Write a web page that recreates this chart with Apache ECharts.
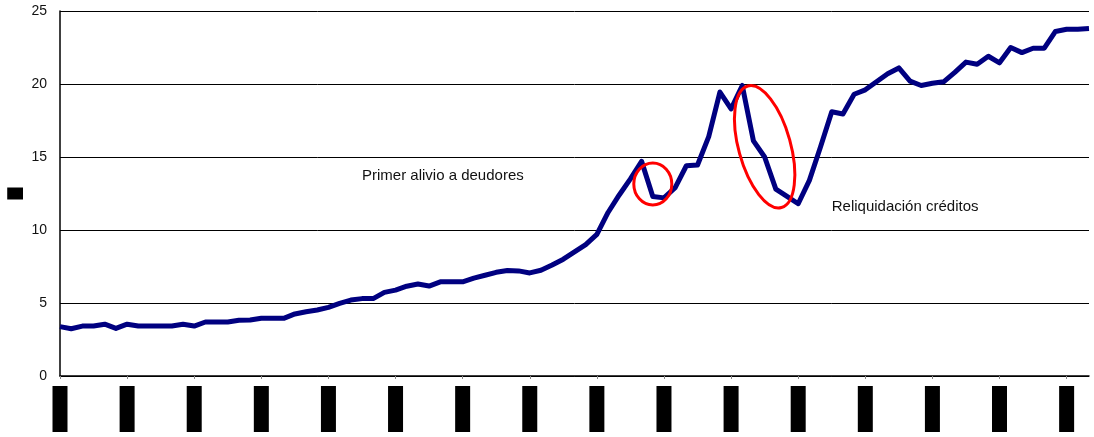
<!DOCTYPE html>
<html>
<head>
<meta charset="utf-8">
<script src="https://cdn.jsdelivr.net/npm/echarts@6/dist/echarts.min.js"></script>
<style>
html,body{margin:0;padding:0;background:#fff;}
#c{width:1094px;height:437px;}
</style>
</head>
<body>
<div id="c"></div>
<script>
// Monthly categories (labels shown every 6 months)
const categories = [
 'Jul-94','Ago-94','Sep-94','Oct-94','Nov-94','Dic-94',
 'Ene-95','Feb-95','Mar-95','Abr-95','May-95','Jun-95','Jul-95','Ago-95','Sep-95','Oct-95','Nov-95','Dic-95',
 'Ene-96','Feb-96','Mar-96','Abr-96','May-96','Jun-96','Jul-96','Ago-96','Sep-96','Oct-96','Nov-96','Dic-96',
 'Ene-97','Feb-97','Mar-97','Abr-97','May-97','Jun-97','Jul-97','Ago-97','Sep-97','Oct-97','Nov-97','Dic-97',
 'Ene-98','Feb-98','Mar-98','Abr-98','May-98','Jun-98','Jul-98','Ago-98','Sep-98','Oct-98','Nov-98','Dic-98',
 'Ene-99','Feb-99','Mar-99','Abr-99','May-99','Jun-99','Jul-99','Ago-99','Sep-99','Oct-99','Nov-99','Dic-99',
 'Ene-00','Feb-00','Mar-00','Abr-00','May-00','Jun-00','Jul-00','Ago-00','Sep-00','Oct-00','Nov-00','Dic-00',
 'Ene-01','Feb-01','Mar-01','Abr-01','May-01','Jun-01','Jul-01','Ago-01','Sep-01','Oct-01','Nov-01','Dic-01',
 'Ene-02','Feb-02','Mar-02'
];
const values = [
 3.38,3.24,3.42,3.42,3.55,3.26,3.55,3.42,3.42,3.42,
 3.42,3.55,3.42,3.70,3.70,3.70,3.82,3.83,3.95,3.95,
 3.95,4.25,4.40,4.52,4.70,4.98,5.20,5.30,5.30,5.73,
 5.88,6.15,6.30,6.16,6.45,6.45,6.45,6.70,6.90,7.10,
 7.22,7.20,7.06,7.24,7.60,8.00,8.50,9.00,9.70,11.20,
 12.40,13.50,14.70,12.30,12.20,12.90,14.40,14.45,16.40,19.45,
 18.30,19.90,16.10,15.00,12.80,12.30,11.80,13.40,15.70,18.10,
 17.95,19.30,19.60,20.15,20.70,21.10,20.20,19.90,20.05,20.15,
 20.80,21.50,21.35,21.90,21.45,22.50,22.15,22.45,22.45,23.60,
 23.75,23.75,23.80
];
const yTicks = [0, 5, 10, 15, 20, 25];
const yAxisTitle = '%';
const annotationTexts = ['Primer alivio a deudores', 'Reliquidación créditos'];
// annotation anchors in data coordinates [category index, value]
const textAnchors = [[27.0, 13.7], [68.7, 11.6]];
const ellipseCenters = [[52.95, 13.15], [63.05, 15.7]];

const chart = echarts.init(document.getElementById('c'), null, {renderer: 'canvas'});
const font = '"Liberation Sans", Arial, sans-serif';
chart.setOption({
  animation: false,
  backgroundColor: '#fff',
  grid: {left: 60, right: 5, top: 11, bottom: 61, containLabel: false},
  xAxis: {
    type: 'category',
    data: categories,
    boundaryGap: false,
    axisLine: {show: true, lineStyle: {color: '#000', width: 1.5}},
    axisTick: {show: true, interval: 5, length: 3, lineStyle: {color: '#888'}},
    axisLabel: {
      interval: 5, rotate: 90, margin: 10,
      color: '#000', backgroundColor: '#000',
      fontFamily: font, fontSize: 11, lineHeight: 13, padding: [1, 5],
      width: 36, overflow: 'truncate'
    },
    splitLine: {show: false}
  },
  yAxis: {
    type: 'value',
    min: yTicks[0], max: yTicks[yTicks.length - 1], interval: 5,
    name: yAxisTitle,
    nameLocation: 'middle', nameRotate: 0, nameGap: 37,
    nameTextStyle: {color: '#000', backgroundColor: '#000', fontSize: 11, lineHeight: 12, padding: [0, 3], fontFamily: font},
    axisLine: {show: true, lineStyle: {color: '#000', width: 1.5}},
    axisTick: {show: false},
    axisLabel: {color: '#111', fontSize: 14, fontFamily: font, margin: 13},
    splitLine: {show: true, lineStyle: {color: '#000', width: 1}}
  },
  series: [{
    type: 'line',
    data: values,
    symbol: 'none',
    lineStyle: {color: '#000080', width: 5, join: 'round'},
    z: 3
  }]
});

function px(p) { return chart.convertToPixel({gridIndex: 0}, p); }
const c1 = px(ellipseCenters[0]);
const c2 = px(ellipseCenters[1]);
const t1 = px(textAnchors[0]);
const t2 = px(textAnchors[1]);
chart.setOption({
  graphic: [
    {type: 'ellipse', x: c1[0], y: c1[1], shape: {cx: 0, cy: 0, rx: 19, ry: 21},
     style: {fill: 'none', stroke: '#ff0000', lineWidth: 3}, z: 10},
    {type: 'ellipse', x: c2[0], y: c2[1], rotation: 0.27, shape: {cx: 0, cy: 0, rx: 26, ry: 63},
     style: {fill: 'none', stroke: '#ff0000', lineWidth: 3}, z: 10},
    {type: 'text', x: t1[0], y: t1[1],
     style: {text: annotationTexts[0], fill: '#111', font: '15px ' + font, verticalAlign: 'middle'}, z: 10},
    {type: 'text', x: t2[0], y: t2[1],
     style: {text: annotationTexts[1], fill: '#111', font: '15px ' + font, verticalAlign: 'middle'}, z: 10}
  ]
});
</script>
</body>
</html>
